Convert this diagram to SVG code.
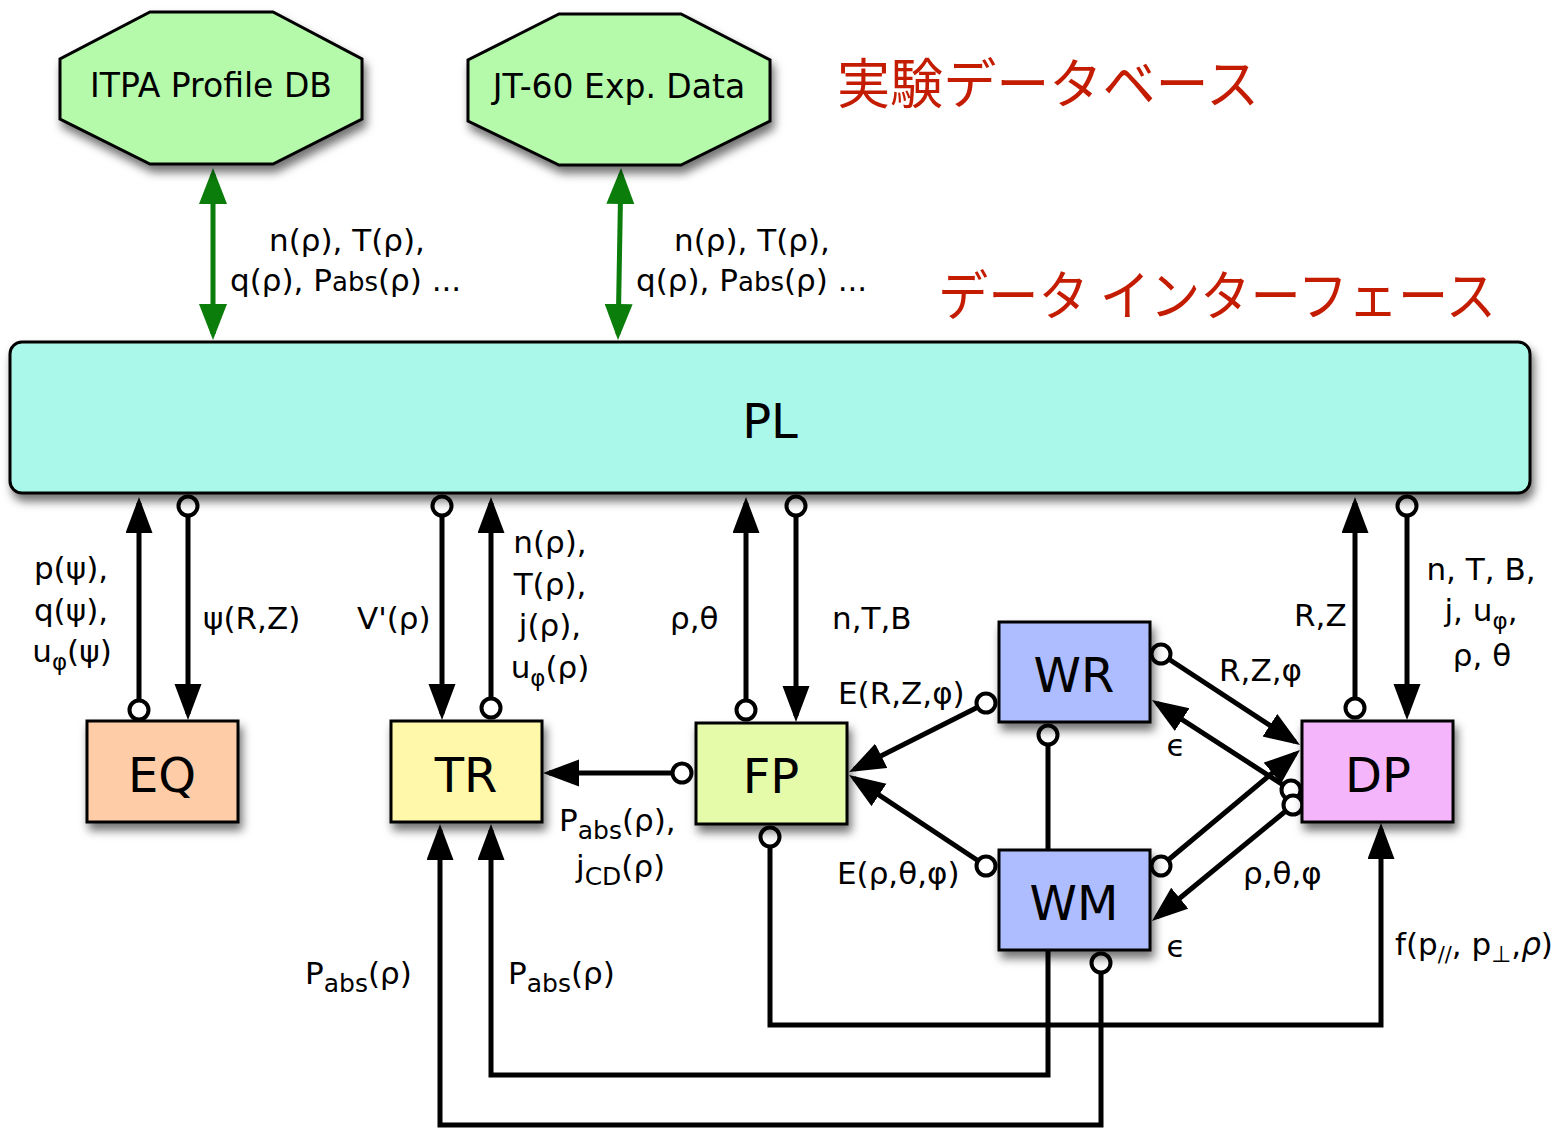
<svg xmlns="http://www.w3.org/2000/svg" width="1566" height="1129" viewBox="0 0 1566 1129">
<style>
.lbl{font-family:"DejaVu Sans","Liberation Sans",sans-serif;font-size:31px;fill:#000}
.big{font-family:"DejaVu Sans","Liberation Sans",sans-serif;font-size:48px;fill:#000;text-anchor:middle}
.oct{font-family:"DejaVu Sans","Liberation Sans",sans-serif;font-size:33px;fill:#000;text-anchor:middle}
.jp{font-family:"Noto Sans CJK JP",sans-serif;font-size:54px;fill:#c41c00}
.box{stroke:#000;stroke-width:3}
.conn{stroke:#000;stroke-width:5;fill:none;marker-end:url(#arr)}
.dot{marker-start:url(#dot)}
.grn{stroke:#0a7d0a;stroke-width:5;fill:none;marker-start:url(#garr);marker-end:url(#garr)}
</style>
<defs>
<filter id="sh" x="-20%" y="-20%" width="140%" height="150%">
<feDropShadow dx="3" dy="7" stdDeviation="5" flood-color="#000" flood-opacity="0.55"/>
</filter>
<marker id="arr" markerUnits="userSpaceOnUse" markerWidth="40" markerHeight="30" refX="30" refY="13.5" orient="auto">
<path d="M0,0 L36,13.5 L0,27 z" fill="#000"/>
</marker>
<marker id="garr" markerUnits="userSpaceOnUse" markerWidth="40" markerHeight="30" refX="30" refY="14" orient="auto-start-reverse">
<path d="M0,0 L36,14 L0,28 z" fill="#0a7d0a"/>
</marker>
<marker id="dot" markerUnits="userSpaceOnUse" markerWidth="30" markerHeight="30" refX="15" refY="15" orient="0">
<circle cx="15" cy="15" r="9.5" fill="#fff" stroke="#000" stroke-width="4"/>
</marker>
</defs>
<rect width="1566" height="1129" fill="#fff"/>

<g id="connectors">
<path class="grn" d="M213,174 L213,334"/>
<path class="grn" d="M620.9,174 L618.1,334"/>
<path class="conn dot" d="M139,710 L139,503"/>
<path class="conn dot" d="M188,506 L188,714"/>
<path class="conn dot" d="M442,506 L442,714"/>
<path class="conn dot" d="M491,708 L491,503"/>
<path class="conn dot" d="M746,710 L746,503"/>
<path class="conn dot" d="M796,506 L796,716"/>
<path class="conn dot" d="M1355,708 L1355,503"/>
<path class="conn dot" d="M1407,506 L1407,714"/>
<path class="conn dot" d="M682,773 L549,773"/>
<path class="conn dot" d="M986,703 L854.4,769.3"/>
<path class="conn dot" d="M986,866 L854,778.3"/>
<path class="conn dot" d="M1161,654 L1295,741.7"/>
<path class="conn dot" d="M1291,790 L1157,703.3"/>
<path class="conn dot" d="M1161,866 L1295.4,753.8"/>
<path class="conn dot" d="M1293,805 L1156.6,917.2"/>
<path class="conn dot" d="M1048,735 L1048,1075 L491,1075 L491,830"/>
<path class="conn dot" d="M1101,963 L1101,1125 L440,1125 L440,830"/>
<path class="conn dot" d="M770,837 L770,1025 L1381,1025 L1381,829"/>
</g>

<g id="node-itpa">
<polygon class="box" filter="url(#sh)" fill="#b4faaa" points="150,12 273,12 362,59 362,119 273,164 150,164 60,119 60,59"/>
<text class="oct" x="211" y="97">ITPA Profile DB</text>
</g>
<g id="node-jt60">
<polygon class="box" filter="url(#sh)" fill="#b4faaa" points="559,14 681,14 770,60 770,121 681,165 559,165 468,121 468,60"/>
<text class="oct" x="619" y="98">JT-60 Exp. Data</text>
</g>
<g id="node-pl">
<rect class="box" filter="url(#sh)" fill="#aaf8ea" x="10" y="342" width="1520" height="151" rx="12"/>
<text class="big" x="770" y="438">PL</text>
</g>
<g id="node-eq">
<rect class="box" filter="url(#sh)" fill="#ffcca8" x="87" y="721" width="151" height="101"/>
<text class="big" x="162" y="792">EQ</text>
</g>
<g id="node-tr">
<rect class="box" filter="url(#sh)" fill="#fff8aa" x="391" y="721" width="151" height="101"/>
<text class="big" x="466" y="792">TR</text>
</g>
<g id="node-fp">
<rect class="box" filter="url(#sh)" fill="#e6fbaa" x="696" y="723" width="151" height="101"/>
<text class="big" x="771" y="793">FP</text>
</g>
<g id="node-wr">
<rect class="box" filter="url(#sh)" fill="#adbdff" x="999" y="622" width="151" height="100"/>
<text class="big" x="1074" y="692">WR</text>
</g>
<g id="node-wm">
<rect class="box" filter="url(#sh)" fill="#adbdff" x="999" y="850" width="151" height="100"/>
<text class="big" x="1074" y="920">WM</text>
</g>
<g id="node-dp">
<rect class="box" filter="url(#sh)" fill="#f4b5fb" x="1302" y="721" width="151" height="101"/>
<text class="big" x="1378" y="792">DP</text>
</g>

<g id="titles">
<text class="jp" x="837" y="104" textLength="422" lengthAdjust="spacingAndGlyphs">実験データベース</text>
<text class="jp" x="938" y="316" textLength="558" lengthAdjust="spacingAndGlyphs">データ インターフェース</text>
</g>

<g id="labels">
<text class="lbl" x="347" y="251" text-anchor="middle">n(ρ), T(ρ),</text>
<text class="lbl" x="230" y="291">q(ρ), P<tspan font-size="26">abs</tspan>(ρ) ...</text>
<text class="lbl" x="752" y="251" text-anchor="middle">n(ρ), T(ρ),</text>
<text class="lbl" x="636" y="291">q(ρ), P<tspan font-size="26">abs</tspan>(ρ) ...</text>

<text class="lbl" x="71" y="579" text-anchor="middle">p(ψ),</text>
<text class="lbl" x="71" y="621" text-anchor="middle">q(ψ),</text>
<text class="lbl" x="72" y="662" text-anchor="middle">u<tspan font-size="23" dy="8">φ</tspan><tspan dy="-8">(ψ)</tspan></text>
<text class="lbl" x="203" y="629">ψ(R,Z)</text>
<text class="lbl" x="357" y="629">V'(ρ)</text>
<text class="lbl" x="550" y="553" text-anchor="middle">n(ρ),</text>
<text class="lbl" x="550" y="595" text-anchor="middle">T(ρ),</text>
<text class="lbl" x="550" y="636" text-anchor="middle">j(ρ),</text>
<text class="lbl" x="550" y="678" text-anchor="middle">u<tspan font-size="23" dy="8">φ</tspan><tspan dy="-8">(ρ)</tspan></text>
<text class="lbl" x="670" y="629">ρ,θ</text>
<text class="lbl" x="832" y="629">n,T,B</text>
<text class="lbl" x="838" y="704">E(R,Z,φ)</text>
<text class="lbl" x="1219" y="681">R,Z,φ</text>
<text class="lbl" x="1176" y="756" text-anchor="middle">ϵ</text>
<text class="lbl" x="1294" y="626">R,Z</text>
<text class="lbl" x="1481" y="580" text-anchor="middle">n, T, B,</text>
<text class="lbl" x="1481" y="621" text-anchor="middle">j, u<tspan font-size="23" dy="8">φ</tspan><tspan dy="-8">,</tspan></text>
<text class="lbl" x="1482" y="666" text-anchor="middle">ρ, θ</text>
<text class="lbl" x="559" y="831">P<tspan font-size="25" dy="8">abs</tspan><tspan dy="-8">(ρ),</tspan></text>
<text class="lbl" x="576" y="877">j<tspan font-size="25" dy="8">CD</tspan><tspan dy="-8">(ρ)</tspan></text>
<text class="lbl" x="837" y="884">E(ρ,θ,φ)</text>
<text class="lbl" x="1243" y="884">ρ,θ,φ</text>
<text class="lbl" x="1176" y="957" text-anchor="middle">ϵ</text>
<text class="lbl" x="1395" y="955">f(p<tspan font-size="21" dy="7">//</tspan><tspan dy="-7">, p</tspan><tspan font-size="23" dy="7">⊥</tspan><tspan dy="-7">,</tspan><tspan font-style="italic">ρ</tspan>)</text>
<text class="lbl" x="305" y="984">P<tspan font-size="25" dy="8">abs</tspan><tspan dy="-8">(ρ)</tspan></text>
<text class="lbl" x="508" y="984">P<tspan font-size="25" dy="8">abs</tspan><tspan dy="-8">(ρ)</tspan></text>
</g>
</svg>
